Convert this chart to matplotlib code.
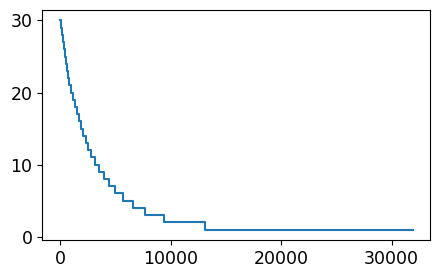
import matplotlib
matplotlib.use("Agg")
import matplotlib.pyplot as plt

# x where each level starts, and the level value
level_start = [0, 75, 160, 245, 330, 420, 510, 610, 710, 820,
               960, 1140, 1330, 1520, 1710, 1910, 2110, 2320, 2540, 2820,
               3150, 3510, 3940, 4420, 4960, 5660, 6590, 7680, 9430, 13080]
levels = list(range(30, 0, -1))
x_end = 31900

xs = level_start + [x_end]
ys = levels + [levels[-1]]

fig = plt.figure(figsize=(4.39, 2.78), dpi=100)
ax = fig.add_axes([0.0964, 0.1367, 0.8838, 0.8273])
ax.step(xs, ys, where="post", color="#1f77b4", linewidth=1.5)
ax.set_xticks([0, 10000, 20000, 30000])
ax.set_yticks([0, 10, 20, 30])
ax.tick_params(labelsize=12.5)

fig.savefig("out.png", dpi=100)
